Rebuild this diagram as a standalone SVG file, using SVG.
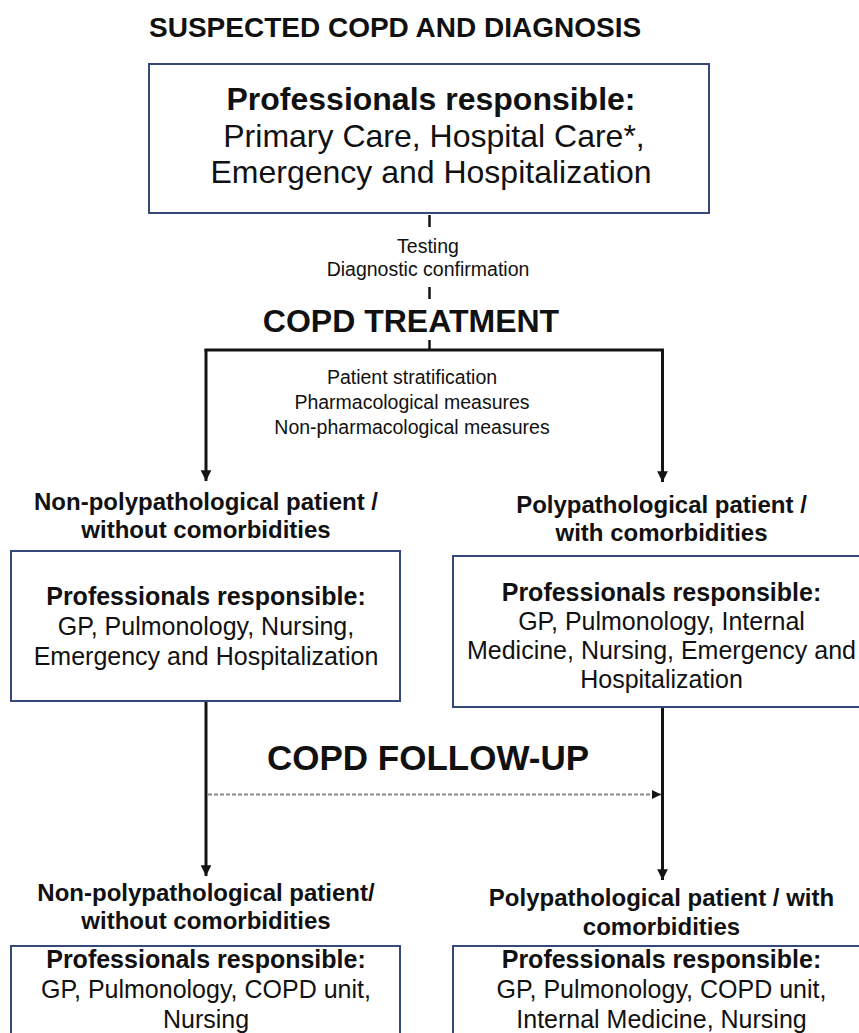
<svg xmlns="http://www.w3.org/2000/svg" width="859" height="1033" viewBox="0 0 859 1033">
<defs>
<style>
text{font-family:"Liberation Sans",Arial,sans-serif;fill:#111;text-anchor:middle}
.b{font-weight:bold}
.box{fill:#fff;stroke:#34497a;stroke-width:2}
.con{stroke:#141414;stroke-width:3;fill:none}
.dash{stroke:#141414;stroke-width:2.5;fill:none}
.dot{stroke:#8a8a8a;stroke-width:2;stroke-dasharray:4 2;fill:none}
</style>
<marker id="ah" viewBox="0 0 10 10" refX="10" refY="5" markerWidth="3.6" markerHeight="3.6" markerUnits="strokeWidth" orient="auto">
<path d="M0,0 L10,5 L0,10 z" fill="#141414"/>
</marker>
<marker id="ahs" viewBox="0 0 10 10" refX="10" refY="5" markerWidth="4.5" markerHeight="4.5" markerUnits="strokeWidth" orient="auto">
<path d="M0,0 L10,5 L0,10 z" fill="#141414"/>
</marker>
</defs>
<rect width="859" height="1033" fill="#fff"/>

<text id="title" x="149" y="37" class="b" font-size="28" style="text-anchor:start">SUSPECTED COPD AND DIAGNOSIS</text>

<g id="connectors">
<line class="dash" x1="429.5" y1="215" x2="429.5" y2="227"/>
<line class="dash" x1="429.5" y1="287" x2="429.5" y2="299"/>
<line class="dash" x1="429.5" y1="340" x2="429.5" y2="350"/>
<line class="con" x1="204.5" y1="350" x2="664" y2="350"/>
<line class="con" x1="206" y1="349" x2="206" y2="481" marker-end="url(#ah)"/>
<line class="con" x1="662.5" y1="349" x2="662.5" y2="482" marker-end="url(#ah)"/>
<line class="con" x1="206" y1="701" x2="206" y2="876" marker-end="url(#ah)"/>
<line class="con" x1="662.5" y1="707" x2="662.5" y2="880" marker-end="url(#ah)"/>
<line class="dot" x1="208" y1="794.5" x2="661" y2="794.5" marker-end="url(#ahs)"/>
</g>

<g id="n-diagnosis">
<rect class="box" x="149" y="64" width="560" height="149"/>
<text x="431" y="110" class="b" font-size="32">Professionals responsible:</text>
<text x="434" y="147" font-size="32">Primary Care, Hospital Care*,</text>
<text x="431" y="183" font-size="32">Emergency and Hospitalization</text>
</g>

<g id="l-testing">
<text x="428" y="253" font-size="19.5">Testing</text>
<text x="428" y="276" font-size="19.5">Diagnostic confirmation</text>
</g>

<g id="h-treatment">
<text x="411" y="332" class="b" font-size="32">COPD TREATMENT</text>
</g>

<g id="l-measures">
<text x="412" y="384" font-size="19.5">Patient stratification</text>
<text x="412" y="409" font-size="19.5">Pharmacological measures</text>
<text x="412" y="434" font-size="19.5">Non-pharmacological measures</text>
</g>

<g id="n-treat-nonpoly">
<text x="206" y="510" class="b" font-size="24">Non-polypathological patient /</text>
<text x="206" y="538" class="b" font-size="24">without comorbidities</text>
<rect class="box" x="11" y="551" width="389" height="150"/>
<text x="206" y="605" class="b" font-size="25">Professionals responsible:</text>
<text x="206" y="635" font-size="25">GP, Pulmonology, Nursing,</text>
<text x="206" y="665" font-size="25">Emergency and Hospitalization</text>
</g>

<g id="n-treat-poly">
<text x="661.5" y="513" class="b" font-size="24">Polypathological patient /</text>
<text x="661.5" y="541" class="b" font-size="24">with comorbidities</text>
<rect class="box" x="453" y="556" width="416" height="151"/>
<text x="661.5" y="601" class="b" font-size="25">Professionals responsible:</text>
<text x="661.5" y="630" font-size="25">GP, Pulmonology, Internal</text>
<text x="661.5" y="659" font-size="25">Medicine, Nursing, Emergency and</text>
<text x="661.5" y="688" font-size="25">Hospitalization</text>
</g>

<g id="h-followup">
<text x="428" y="770" class="b" font-size="35">COPD FOLLOW-UP</text>
</g>

<g id="n-follow-nonpoly">
<text x="206" y="901" class="b" font-size="24">Non-polypathological patient/</text>
<text x="206" y="929" class="b" font-size="24">without comorbidities</text>
<rect class="box" x="11" y="946" width="389" height="100"/>
<text x="206" y="968" class="b" font-size="25">Professionals responsible:</text>
<text x="206" y="998" font-size="25">GP, Pulmonology, COPD unit,</text>
<text x="206" y="1028" font-size="25">Nursing</text>
</g>

<g id="n-follow-poly">
<text x="661.5" y="906" class="b" font-size="24">Polypathological patient / with</text>
<text x="661.5" y="935" class="b" font-size="24">comorbidities</text>
<rect class="box" x="453" y="946" width="416" height="100"/>
<text x="661.5" y="968" class="b" font-size="25">Professionals responsible:</text>
<text x="661.5" y="998" font-size="25">GP, Pulmonology, COPD unit,</text>
<text x="661.5" y="1028" font-size="25">Internal Medicine, Nursing</text>
</g>
</svg>
